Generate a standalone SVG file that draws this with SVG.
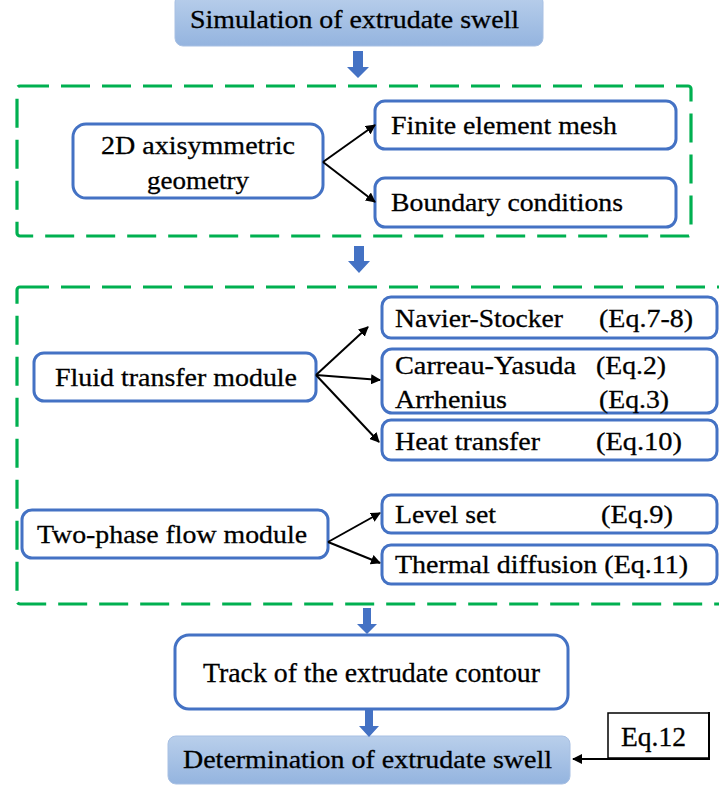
<svg xmlns="http://www.w3.org/2000/svg" width="719" height="785" viewBox="0 0 719 785">
<defs>
<linearGradient id="gb" x1="0" y1="0" x2="0" y2="1">
<stop offset="0" stop-color="#b9cfeb"/>
<stop offset="1" stop-color="#94b4df"/>
</linearGradient>
<marker id="ah" viewBox="0 0 10 10" refX="9" refY="5" markerWidth="5" markerHeight="5" orient="auto" markerUnits="strokeWidth">
<path d="M0,0 L10,5 L0,10 Z" fill="#000"/>
</marker>
<style>
.t{font-family:'Liberation Serif','Times New Roman',serif;font-size:26px;fill:#000;stroke:#000;stroke-width:0.3}
.box{fill:#fff;stroke:#4472c4;stroke-width:3}
.grad{fill:url(#gb);stroke:#a8c0e3;stroke-width:1}
.dash{fill:none;stroke:#00b050;stroke-width:3.2;stroke-dasharray:29 12}
.con{stroke:#000;stroke-width:2;fill:none;marker-end:url(#ah)}
.big{fill:#4472c4}
</style>
</defs>
<g id="group1"><rect class="dash" x="17" y="86" width="674" height="150" rx="3"/></g>
<g id="group2"><rect class="dash" x="17" y="287" width="720" height="317" rx="3"/></g>

<g id="sim"><rect class="grad" x="175" y="-6" width="368" height="52" rx="8"/>
<text class="t" x="190" y="28" style="font-size:25px" textLength="329" lengthAdjust="spacingAndGlyphs">Simulation of extrudate swell</text></g>

<g id="geom"><rect class="box" x="73" y="124" width="250" height="74" rx="13"/>
<text class="t" x="101" y="154" textLength="194" lengthAdjust="spacingAndGlyphs">2D axisymmetric</text>
<text class="t" x="147" y="189" textLength="102" lengthAdjust="spacingAndGlyphs">geometry</text></g>

<g id="mesh"><rect class="box" x="375" y="101" width="301" height="48" rx="10"/>
<text class="t" x="391" y="134" textLength="226" lengthAdjust="spacingAndGlyphs">Finite element mesh</text></g>

<g id="bc"><rect class="box" x="375" y="178" width="301" height="49" rx="10"/>
<text class="t" x="391" y="211" textLength="232" lengthAdjust="spacingAndGlyphs">Boundary conditions</text></g>

<g id="fluid"><rect class="box" x="34" y="353" width="282" height="48" rx="10"/>
<text class="t" x="55" y="386" textLength="242" lengthAdjust="spacingAndGlyphs">Fluid transfer module</text></g>

<g id="twophase"><rect class="box" x="22" y="510" width="306" height="48" rx="10"/>
<text class="t" x="37" y="543" textLength="270" lengthAdjust="spacingAndGlyphs">Two-phase flow module</text></g>

<g id="navier"><rect class="box" x="382" y="297" width="335" height="41" rx="9"/>
<text class="t" x="395" y="327" textLength="168" lengthAdjust="spacingAndGlyphs">Navier-Stocker</text>
<text class="t" x="599" y="327" textLength="94" lengthAdjust="spacingAndGlyphs">(Eq.7-8)</text></g>

<g id="carreau"><rect class="box" x="382" y="349" width="335" height="64" rx="10"/>
<text class="t" x="395" y="374" textLength="181" lengthAdjust="spacingAndGlyphs">Carreau-Yasuda</text>
<text class="t" x="596" y="374" textLength="70" lengthAdjust="spacingAndGlyphs">(Eq.2)</text>
<text class="t" x="395" y="408" textLength="112" lengthAdjust="spacingAndGlyphs">Arrhenius</text>
<text class="t" x="599" y="408" textLength="70" lengthAdjust="spacingAndGlyphs">(Eq.3)</text></g>

<g id="heat"><rect class="box" x="382" y="420" width="335" height="40" rx="9"/>
<text class="t" x="395" y="450" textLength="145" lengthAdjust="spacingAndGlyphs">Heat transfer</text>
<text class="t" x="596" y="450" textLength="86" lengthAdjust="spacingAndGlyphs">(Eq.10)</text></g>

<g id="levelset"><rect class="box" x="382" y="495" width="335" height="38" rx="9"/>
<text class="t" x="395" y="523" textLength="101" lengthAdjust="spacingAndGlyphs">Level set</text>
<text class="t" x="601" y="523" textLength="72" lengthAdjust="spacingAndGlyphs">(Eq.9)</text></g>

<g id="thermal"><rect class="box" x="382" y="545" width="335" height="39" rx="9"/>
<text class="t" x="395" y="573" textLength="293" lengthAdjust="spacingAndGlyphs">Thermal diffusion (Eq.11)</text></g>

<g id="track"><rect class="box" x="175" y="635" width="393" height="74" rx="14"/>
<text class="t" x="203" y="682" style="font-size:27px" textLength="337" lengthAdjust="spacingAndGlyphs">Track of the extrudate contour</text></g>

<g id="determination"><rect class="grad" x="168" y="736" width="402" height="48" rx="8"/>
<text class="t" x="183" y="768" textLength="369" lengthAdjust="spacingAndGlyphs">Determination of extrudate swell</text></g>

<g id="eq12"><rect x="608" y="713" width="101" height="45" fill="#fff" stroke="#000" stroke-width="1.5"/>
<text class="t" x="621" y="746" style="font-size:28px" textLength="65" lengthAdjust="spacingAndGlyphs">Eq.12</text></g>

<g id="connectors">
<line class="con" x1="323" y1="162" x2="375" y2="125"/>
<line class="con" x1="323" y1="162" x2="375" y2="202"/>
<line class="con" x1="316" y1="375" x2="368" y2="327"/>
<line class="con" x1="316" y1="375" x2="380" y2="380"/>
<line class="con" x1="316" y1="375" x2="379" y2="442"/>
<line class="con" x1="328" y1="542" x2="380" y2="513"/>
<line class="con" x1="328" y1="542" x2="380" y2="563"/>
<polyline class="con" points="709,712 709,759 573,759"/>
<path class="big" d="M353,51 H363 V67 H369 L358,78 L347,67 H353 Z"/>
<path class="big" d="M354,246 H364 V261 H370 L359,273 L348,261 H354 Z"/>
<path class="big" d="M363,608 H371 V624 H377 L367,634 L357,624 H363 Z"/>
<path class="big" d="M365,709 H373 V726 H379 L369,737 L359,726 H365 Z"/>
</g>
</svg>
